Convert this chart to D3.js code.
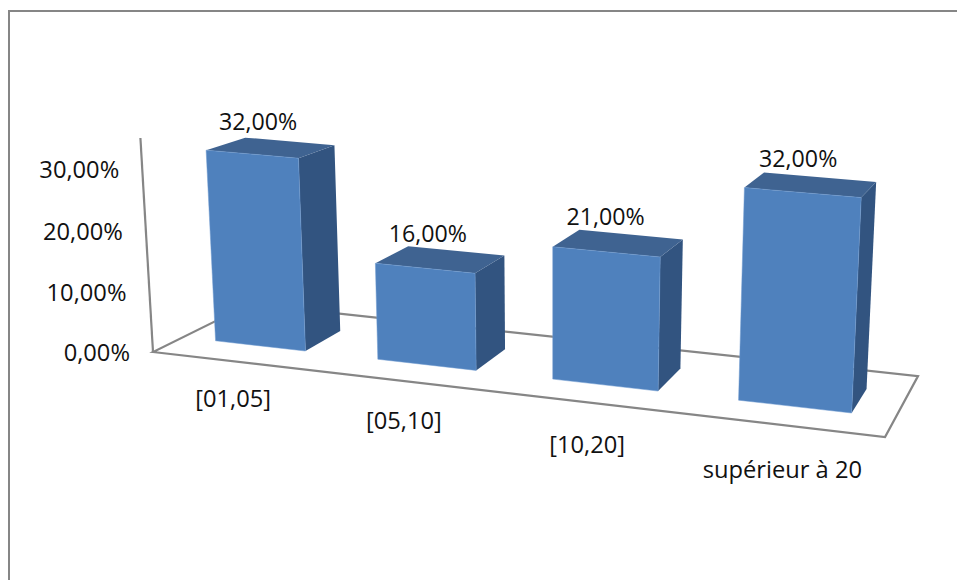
<!DOCTYPE html>
<html>
<head>
<meta charset="utf-8">
<script src="https://cdn.jsdelivr.net/npm/d3@7"></script>
<style>
html,body{margin:0;padding:0;background:#fff;overflow:hidden}
svg{display:block}
text{font-family:"Open Sans",sans-serif;fill:#111}
</style>
</head>
<body>
<svg id="c" width="957" height="580"></svg>
<script>
// Data
const categories = ["[01,05]", "[05,10]", "[10,20]", "supérieur à 20"];
const barHeights = [32, 16, 21.5, 33.4];           // percent, as drawn
const valueLabels = ["32,00%", "16,00%", "21,00%", "32,00%"]; // as printed
const axisTicks = [0, 10, 20, 30];
const axisMax = 35;

// Appearance
const colors = {front:"#4F81BD", top:"#3F6391", side:"#325480", line:"#868686"};

// Scales
const uStart = d3.scaleLinear().domain([0,1,2,3]).range([0.050,0.293,0.543,0.796]);
const uEnd = d3.scaleLinear().domain([0,1,2,3]).range([0.186,0.435,0.688,0.944]);
const vFront = 0.29, vBack = 0.69;
const zScale = d3.scaleLinear().domain([0,axisMax]).range([0,1]);
const fmt = v => d3.format(".2f")(v).replace(".", ",") + "%";

// Projective camera fitted to the floor quad and the axis
const cam = {a:648.4,b:122.1,p:-16.87,c:153, d:43.7,e:-17.4,q:-218.2,f:352, g:-0.0945,h:0.1005,r:-0.03052};
function project(u,v,t){
  const w = cam.g*u + cam.h*v + cam.r*t + 1;
  return [(cam.a*u + cam.b*v + cam.p*t + cam.c)/w, (cam.d*u + cam.e*v + cam.q*t + cam.f)/w];
}

const svg = d3.select("#c");
const closed = d3.line().curve(d3.curveLinearClosed);
const open = d3.line();

// Outer frame (only top and left edges fall inside the picture)
svg.append("rect").attr("x",9).attr("y",11).attr("width",1100).attr("height",800)
  .attr("fill","#fff").attr("stroke",colors.line).attr("stroke-width",2);

// Floor
svg.append("path").attr("d",closed([project(0,0,0),project(1,0,0),project(1,1,0),project(0,1,0)]))
  .attr("fill","none").attr("stroke",colors.line).attr("stroke-width",2.2).attr("stroke-linejoin","miter");
// Value axis
svg.append("path").attr("d",open([project(0,0,0),project(0,0,1)]))
  .attr("fill","none").attr("stroke",colors.line).attr("stroke-width",2.2);

// Axis tick labels
svg.selectAll("text.tick").data(axisTicks).join("text").attr("class","tick")
  .attr("x",d=>project(0,0,zScale(d))[0]-23)
  .attr("y",d=>project(0,0,zScale(d))[1])
  .attr("dy","0.36em").attr("text-anchor","end").attr("font-size",23.7)
  .text(fmt);

// Bars
const bars = svg.selectAll("g.bar").data(categories).join("g").attr("class","bar");
bars.each(function(cat,i){
  const g = d3.select(this);
  const u0 = uStart(i), u1 = uEnd(i);
  const t = zScale(barHeights[i]);
  g.append("path").attr("fill",colors.side).attr("d",closed([
    project(u1,vFront,0),project(u1,vBack,0),project(u1,vBack,t),project(u1,vFront,t)]));
  g.append("path").attr("fill",colors.top).attr("d",closed([
    project(u0,vFront,t),project(u1,vFront,t),project(u1,vBack,t),project(u0,vBack,t)]));
  g.append("path").attr("fill",colors.front).attr("stroke","#6E9AD0").attr("stroke-width",0.5).attr("d",closed([
    project(u0,vFront,0),project(u1,vFront,0),project(u1,vFront,t),project(u0,vFront,t)]));
});

// Value labels
const topCentre = i => project((uStart(i)+uEnd(i))/2,(vFront+vBack)/2,zScale(barHeights[i]));
svg.selectAll("text.val").data(categories).join("text").attr("class","val")
  .attr("x",(d,i)=>topCentre(i)[0]-13)
  .attr("y",(d,i)=>topCentre(i)[1]-26)
  .attr("dy","0.36em").attr("text-anchor","middle").attr("font-size",23.2)
  .text((d,i)=>valueLabels[i]);

// Category labels
const catDy = d3.scaleLinear().domain([0,3]).range([37,45]);
const floorCentre = i => project((uStart(i)+uEnd(i))/2,0,0);
svg.selectAll("text.cat").data(categories).join("text").attr("class","cat")
  .attr("x",(d,i)=>floorCentre(i)[0]+1)
  .attr("y",(d,i)=>floorCentre(i)[1]+catDy(i))
  .attr("dy","0.36em").attr("text-anchor","middle").attr("font-size",23.7)
  .text(d=>d);
</script>
</body>
</html>
